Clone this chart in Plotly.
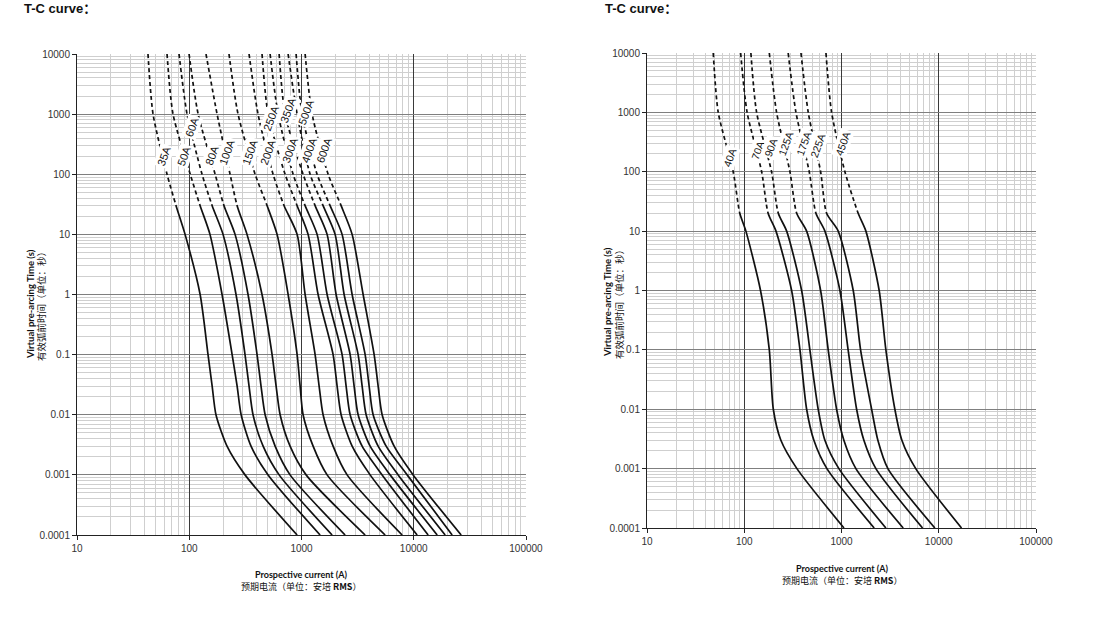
import numpy as np
import plotly.graph_objects as go

times_left = [10000, 1000, 100, 30, 10, 1, 0.1, 0.03, 0.01, 0.003, 0.001, 0.0001]
times_right = [10000, 1000, 100, 20, 10, 1, 0.1, 0.01, 0.003, 0.001, 0.0001]

# left chart, prospective current (A) for each rating
ratings_left = ["35A", "50A", "60A", "80A", "100A", "150A", "200A",
                "250A", "300A", "350A", "400A", "500A", "600A"]
i_35a = [42.9, 47.6, 63.4, 76.3, 91.8, 125, 147, 160, 173, 217, 314, 914]
i_50a = [63.4, 71.7, 102, 125, 153, 196, 241, 267, 290, 355, 504, 1465]
i_60a = [81.1, 95.6, 130, 160, 200, 261, 314, 341, 370, 455, 632, 1874]
i_80a = [99.6, 120, 170, 204, 256, 334, 402, 436, 474, 582, 791, 2447]
i_100a = [141, 177, 231, 267, 327, 445, 547, 594, 645, 791, 1099, 3689]
i_150a = [226, 272, 386, 494, 606, 760, 914, 972, 1033, 1269, 1691, 5562]
i_200a = [341, 410, 558, 700, 914, 1077, 1322, 1435, 1557, 1912, 2549, 7881]
i_250a = [445, 504, 714, 914, 1145, 1406, 1912, 2076, 2254, 2825, 4088, 10720]
i_300a = [525, 619, 842, 1077, 1377, 1691, 2300, 2497, 2712, 3469, 5228, 13440]
i_350a = [632, 714, 1033, 1322, 1691, 2034, 2712, 2943, 3195, 4088, 6160, 16170]
i_400a = [760, 914, 1193, 1557, 1993, 2397, 3195, 3469, 3765, 4817, 7261, 19050]
i_500a = [895, 1012, 1377, 1798, 2300, 2825, 3689, 4004, 4346, 5675, 8735, 21990]
i_600a = [1077, 1243, 1726, 2254, 2825, 3540, 4437, 4817, 5228, 6688, 9878, 26450]

# where the rating labels sit on the left curves
label_current_left = [59.6, 89.9, 106, 160, 217, 348, 504, 536, 791, 760, 1169, 1099, 1590]
label_time_left = [201, 201, 610, 208, 234, 234, 234, 861, 253, 1170, 253, 1084, 253]

# right chart
ratings_right = ["40A", "70A", "90A", "125A", "175A", "225A", "450A"]
i_40a = [48.0, 54, 77, 90, 104, 147, 181, 199, 238, 348, 1060]
i_70a = [91.8, 107, 151, 176, 212, 307, 374, 438, 520, 708, 2168]
i_90a = [117, 134, 191, 224, 273, 389, 473, 576, 675, 940, 2860]
i_125a = [181, 215, 295, 346, 438, 610, 730, 890, 1058, 1406, 4310]
i_175a = [283, 340, 466, 546, 675, 963, 1170, 1430, 1699, 2257, 6815]
i_225a = [383, 455, 610, 703, 925, 1320, 1571, 2040, 2366, 3000, 9120]
i_450a = [692, 791, 1084, 1484, 1782, 2440, 2860, 3538, 4177, 5800, 17150]

label_current_right = [71.3, 138, 188, 268, 411, 572, 1034]
label_time_right = [177, 233, 262, 305, 305, 283, 305]

x_tickvals = [10, 100, 1000, 10000, 100000]
x_ticktext = ["10", "100", "1000", "10000", "100000"]
y_tickvals = [0.0001, 0.001, 0.01, 0.1, 1, 10, 100, 1000, 10000]
y_ticktext = ["0.0001", "0.001", "0.01", "0.1", "1", "10", "100", "1000", "10000"]

FONT = "Arial, Liberation Sans, Noto Sans CJK SC, sans-serif"
TITLE_FONT = "Lato, Noto Sans CJK SC, sans-serif"
CJK_FONT = "Noto Sans CJK SC, Lato, sans-serif"


def dash_then_solid(n_dashes):
    # dashed for the first part of the path (from the top), solid after
    return ",".join(["4px,3px"] * n_dashes) + ",3000px"


def add_curves(fig, times, curves, n_dashes, xref, yref):
    for currents in curves:
        fig.add_trace(
            go.Scatter(
                x=currents,
                y=times,
                mode="lines",
                line=dict(color="#111111", width=1.7,
                          dash=dash_then_solid(n_dashes),
                          shape="spline", smoothing=0.7),
                xaxis=xref,
                yaxis=yref,
                showlegend=False,
                hoverinfo="skip",
            )
        )


def add_labels(fig, ratings, currents, times, xref, yref, size):
    for name, c, t in zip(ratings, currents, times):
        fig.add_annotation(
            x=np.log10(c), y=np.log10(t), xref=xref, yref=yref,
            text=name, showarrow=False, textangle=-70,
            bgcolor="white", borderpad=1,
            font=dict(family=FONT, size=size, color="#111111"),
        )


def paper_text(fig, x_px, y_px, text, family, size, angle=0):
    fig.add_annotation(
        x=x_px / 1100, y=1 - y_px / 639, xref="paper", yref="paper",
        xanchor="center", yanchor="middle", showarrow=False,
        textangle=angle, text=text,
        font=dict(family=family, size=size, color="#111111"),
    )


def axis_style(domain, rng, tickvals, ticktext, major_color, anchor):
    return dict(
        type="log",
        domain=domain,
        range=rng,
        anchor=anchor,
        automargin=False,
        tickmode="array",
        tickvals=tickvals,
        ticktext=ticktext,
        ticks="outside",
        ticklen=4,
        tickcolor="#222222",
        tickfont=dict(family=FONT, size=10, color="#333333"),
        showline=True,
        linecolor="#222222",
        linewidth=1,
        showgrid=True,
        gridcolor=major_color,
        gridwidth=1.2,
        minor=dict(dtick="D1", showgrid=True, gridcolor="#cfcfcf",
                   gridwidth=1, ticks=""),
        zeroline=False,
    )


fig = go.Figure()

add_curves(fig,
           times_left,
           [i_35a, i_50a, i_60a, i_80a, i_100a, i_150a, i_200a,
            i_250a, i_300a, i_350a, i_400a, i_500a, i_600a],
           22, "x", "y")
add_curves(fig,
           times_right,
           [i_40a, i_70a, i_90a, i_125a, i_175a, i_225a, i_450a],
           23, "x2", "y2")

add_labels(fig, ratings_left, label_current_left, label_time_left, "x", "y", 11)
add_labels(fig, ratings_right, label_current_right, label_time_right, "x2", "y2", 10.5)

fig.update_layout(
    width=1100,
    height=639,
    autosize=False,
    margin=dict(l=0, r=0, t=0, b=0, pad=0, autoexpand=False),
    paper_bgcolor="white",
    plot_bgcolor="white",
    showlegend=False,
    xaxis=axis_style([77 / 1100, 526 / 1100], [1, 5], x_tickvals, x_ticktext, "#3a3a3a", "y"),
    yaxis=axis_style([104 / 639, 585 / 639], [-4, 4], y_tickvals, y_ticktext, "#7f7f7f", "x"),
    xaxis2=axis_style([647 / 1100, 1036 / 1100], [1, 5], x_tickvals, x_ticktext, "#3a3a3a", "y2"),
    yaxis2=axis_style([111 / 639, 586 / 639], [-4, 4], y_tickvals, y_ticktext, "#7f7f7f", "x2"),
)

# page titles
for x0 in (22, 603):
    fig.add_annotation(
        x=x0 / 1100, y=1 - 9 / 639, xref="paper", yref="paper",
        xanchor="left", yanchor="middle", showarrow=False,
        text="<b>T-C curve：</b>",
        font=dict(family=FONT, size=13, color="#111111"),
    )

# axis titles, one line each
for x_bold, x_cjk, yc in ((30, 41, 304), (608, 619, 302)):
    paper_text(fig, x_bold, yc, "<b>Virtual pre-arcing Time (s)</b>", TITLE_FONT, 9.5, -90)
    paper_text(fig, x_cjk, yc, "有效弧前时间（单位：秒）", CJK_FONT, 9.5, -90)

for xc, y_bold, y_cjk in ((301, 574, 586), (842, 568, 580)):
    paper_text(fig, xc, y_bold, "<b>Prospective current (A)</b>", TITLE_FONT, 9)
    paper_text(fig, xc, y_cjk, "预期电流（单位：安培 <b>RMS</b>）", CJK_FONT, 9)

# drop the page's default body margin so the figure sits at the top-left corner
fig.write_html(
    "out.html",
    config={"displayModeBar": False},
    post_script="document.body.style.margin = '0';",
)
